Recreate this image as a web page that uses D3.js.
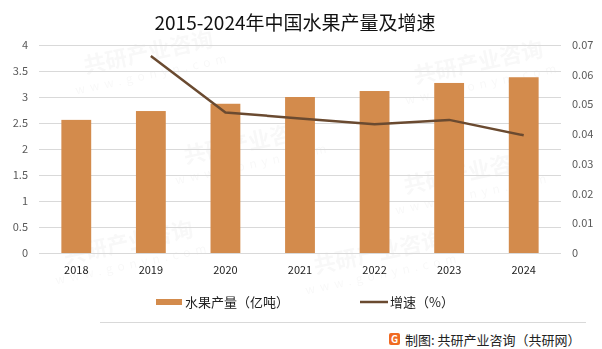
<!DOCTYPE html>
<html><head><meta charset="utf-8">
<script src="https://cdn.jsdelivr.net/npm/d3@7"></script>
<style>body{margin:0;background:#fff}svg{display:block}</style>
</head><body>
<svg id="c" width="602" height="349"></svg>
<script>
const categories = ["2018","2019","2020","2021","2022","2023","2024"];
const production = [2.56, 2.73, 2.87, 3.00, 3.115, 3.27, 3.38];
const growth = [null, 0.0663, 0.0473, 0.0453, 0.0433, 0.0448, 0.0396];
const leftTicks = [0, 0.5, 1, 1.5, 2, 2.5, 3, 3.5, 4];
const rightTicks = [0, 0.01, 0.02, 0.03, 0.04, 0.05, 0.06, 0.07];
const title = "2015-2024年中国水果产量及增速";
const legendLabels = ["水果产量（亿吨）", "增速（%）"];
const source = "制图: 共研产业咨询（共研网）";

const svg = d3.select("#c");
const font = "'Noto Sans CJK SC','Noto Sans',sans-serif";
const L = 39, R = 561, T = 45, B = 253;
const x = d3.scaleBand().domain(categories).range([L, R]).paddingInner(0.6).paddingOuter(0.3);
const yL = d3.scaleLinear().domain([0, 4]).range([B, T]);
const yR = d3.scaleLinear().domain([0, 0.07]).range([B, T]);

// faint watermarks
const wm = svg.append("g").attr("fill", "#000").attr("opacity", 0.03).attr("font-family", font).attr("font-weight", "bold");
[[150,60],[480,70],[250,150],[470,180],[130,250],[380,260]].forEach(([a,b]) => {
  wm.append("text").attr("transform", `translate(${a},${b}) rotate(-12)`).attr("font-size", 22).attr("text-anchor","middle").text("共研产业咨询");
  wm.append("text").attr("transform", `translate(${a+4},${b+18}) rotate(-12)`).attr("font-size", 12).attr("letter-spacing", 5).attr("text-anchor","middle").attr("font-weight","normal").text("www.gonyn.com");
});

// title
svg.append("text").attr("x", 295).attr("y", 30).attr("text-anchor", "middle")
  .attr("font-family", font).attr("font-size", 19).attr("fill", "#111").text(title);

// grid
svg.append("g").selectAll("line").data(leftTicks).join("line")
  .attr("x1", L).attr("x2", R).attr("y1", d => Math.round(yL(d)) + 0.5).attr("y2", d => Math.round(yL(d)) + 0.5)
  .attr("stroke", "#d9d9d9").attr("stroke-width", 1);

// left axis
const ax = d3.axisLeft(yL).tickValues(leftTicks).tickSize(0).tickPadding(0).tickFormat(d3.format("~g"));
const gl = svg.append("g").attr("transform", `translate(28,0)`).call(ax);
gl.select(".domain").remove();
gl.selectAll("text").attr("font-family", font).attr("font-size", 11).attr("fill", "#595959");

const ar = d3.axisRight(yR).tickValues(rightTicks).tickSize(0).tickPadding(0).tickFormat(d => d === 0 ? "0" : d3.format(".2f")(d));
const gr = svg.append("g").attr("transform", `translate(572,0)`).call(ar);
gr.select(".domain").remove();
gr.selectAll("text").attr("font-family", font).attr("font-size", 11).attr("fill", "#595959");

// bottom axis
const ab = d3.axisBottom(x).tickSize(0).tickPadding(13);
const gb = svg.append("g").attr("transform", `translate(0,${B})`).call(ab);
gb.select(".domain").remove();
gb.selectAll("text").attr("font-family", font).attr("font-size", 11).attr("fill", "#222");

// bars
svg.append("g").selectAll("rect").data(production).join("rect")
  .attr("x", (d, i) => x(categories[i])).attr("width", x.bandwidth())
  .attr("y", d => yL(d)).attr("height", d => B - yL(d)).attr("fill", "#d38b4c");

// line
const line = d3.line().defined(d => d[1] != null)
  .x(d => x(d[0]) + x.bandwidth() / 2).y(d => yR(d[1]));
svg.append("path").datum(categories.map((c, i) => [c, growth[i]]))
  .attr("d", line).attr("fill", "none").attr("stroke", "#6a4a30").attr("stroke-width", 2.5).attr("stroke-linejoin","round");

// legend
const lg = svg.append("g").attr("font-family", font).attr("font-size", 13).attr("fill", "#222");
lg.append("rect").attr("x", 156).attr("y", 299).attr("width", 26).attr("height", 6).attr("fill", "#d38b4c");
lg.append("text").attr("x", 185).attr("y", 306.5).text(legendLabels[0]);
lg.append("line").attr("x1", 360).attr("x2", 388).attr("y1", 302).attr("y2", 302).attr("stroke", "#6a4a30").attr("stroke-width", 2.5);
lg.append("text").attr("x", 390).attr("y", 306.5).text(legendLabels[1]);

// separator
svg.append("line").attr("x1", 100).attr("x2", 586).attr("y1", 322.5).attr("y2", 322.5).attr("stroke", "#d9d9d9");

// source logo
const lo = svg.append("g").attr("transform", "translate(389,333)");
lo.append("rect").attr("width", 11).attr("height", 12).attr("rx", 2).attr("fill", "#f06a22");
lo.append("text").attr("x", 5.5).attr("y", 10).attr("text-anchor","middle").attr("font-size", 10).attr("font-weight","bold").attr("fill","#fff").attr("font-family", font).text("G");
svg.append("text").attr("x", 405).attr("y", 344.5).attr("font-family", font).attr("font-size", 13).attr("fill", "#222").text(source);
</script>
</body></html>
